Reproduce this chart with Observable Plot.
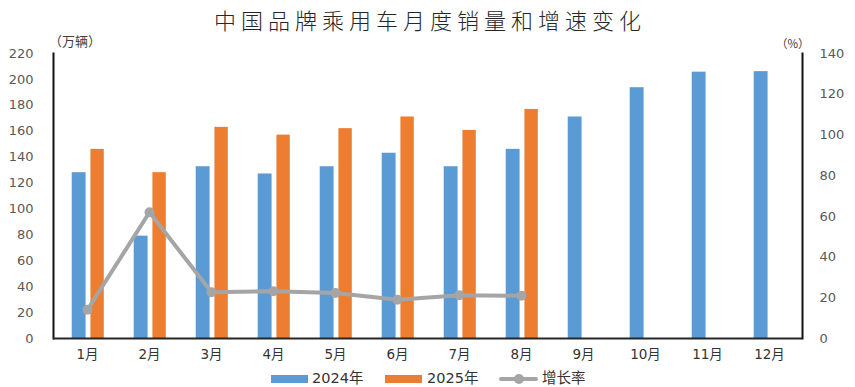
<!DOCTYPE html>
<html>
<head>
<meta charset="utf-8">
<script src="https://cdn.jsdelivr.net/npm/d3@7"></script>
<script src="https://cdn.jsdelivr.net/npm/@observablehq/plot@0.6"></script>
<style>
  html, body { margin: 0; padding: 0; background: #fff; }
  #wrap { position: relative; width: 855px; height: 387px; overflow: hidden;
          font-family: "DejaVu Sans", "Noto Sans CJK SC", sans-serif; }
  #wrap svg { position: absolute; left: 0; top: 0; }
  .abs { position: absolute; white-space: nowrap; line-height: 1; }
  #title { left: 0; width: 855px; top: 8px; text-align: center; font-family: "Noto Sans CJK SC", sans-serif;
           font-size: 22px; font-weight: 300; letter-spacing: 5px; color: #262626; padding-left: 5px; box-sizing: border-box; }
  #unitL { left: 49px; top: 34px; font-size: 13px; color: #404040; font-family: "Noto Sans CJK SC", sans-serif; }
  #unitR { left: 776px; top: 38px; font-size: 11.5px; color: #404040; font-family: "Noto Sans CJK SC", sans-serif; }
  #legend { left: 0; top: 371px; width: 855px; height: 16px; }
  .sw { position: absolute; top: 4px; width: 37px; height: 8px; }
  .lt { position: absolute; top: 0px; font-size: 14.5px; color: #333; }
</style>
</head>
<body>
<div id="wrap">
  <div id="chart"></div>
  <div id="title" class="abs"></div>
  <div id="unitL" class="abs">（万辆）</div>
  <div id="unitR" class="abs">（%）</div>
  <div id="legend" class="abs"></div>
</div>
<script>
const titleText = "中国品牌乘用车月度销量和增速变化";
const months = ["1月","2月","3月","4月","5月","6月","7月","8月","9月","10月","11月","12月"];
const sales2024 = [128, 79, 132.6, 127, 132.6, 143, 132.6, 146, 171, 193.6, 205.6, 206];
const sales2025 = [146, 128, 163, 157, 162, 171, 160.6, 176.8];
const growthRate = [14.1, 62, 22.7, 23.2, 22.4, 19, 21.3, 21];
const leftTicks = [0, 20, 40, 60, 80, 100, 120, 140, 160, 180, 200, 220];
const rightTicks = [0, 20, 40, 60, 80, 100, 120, 140];
const seriesNames = ["2024年", "2025年", "增长率"];
const colors = ["#5B9BD5", "#ED7D31", "#A5A5A5"];

const leftMax = 220, rightMax = 140;
const k = leftMax / rightMax;

const d24 = months.map((m, i) => ({month: m, value: sales2024[i]}));
const d25 = sales2025.map((v, i) => ({month: months[i], value: v}));
const dRate = growthRate.map((v, i) => ({month: months[i], rate: v, yv: v * k}));

const W = 855, H = 387, mL = 53, mR = 53, mT = 53, mB = 49;
const bw = (W - mL - mR) / months.length;
const half = bw / 2;

document.getElementById("title").textContent = titleText;

const chart = Plot.plot({
  width: W, height: H,
  marginLeft: mL, marginRight: mR, marginTop: mT, marginBottom: mB,
  style: {fontFamily: "DejaVu Sans, Noto Sans CJK SC, sans-serif", background: "#fff", overflow: "visible"},
  x: {type: "band", domain: months, padding: 0},
  y: {domain: [0, leftMax]},
  marks: [
    Plot.barY(d24, {x: "month", y: "value", fill: colors[0], insetLeft: half - 15.5, insetRight: half + 1.2}),
    Plot.barY(d25, {x: "month", y: "value", fill: colors[1], insetLeft: half + 3.2, insetRight: half - 17}),
    Plot.line(dRate, {x: "month", y: "yv", stroke: colors[2], strokeWidth: 4, strokeLinejoin: "round"}),
    Plot.dot(dRate, {x: "month", y: "yv", r: 5, fill: colors[2], stroke: "none"}),
    Plot.axisY(leftTicks, {anchor: "left", tickSize: 0, tickPadding: 20, fontSize: 13, fill: "#595959", label: null}),
    Plot.axisY(rightTicks.map(v => v * k), {anchor: "right", tickSize: 0, tickPadding: 17, fontSize: 13, fill: "#595959",
      tickFormat: d => String(Math.round(d / k)), label: null}),
    Plot.axisX({anchor: "bottom", tickSize: 0, tickPadding: 11, fontSize: 13.5, fill: "#333", label: null}),
    Plot.frame({anchor: "left", stroke: "#111", strokeWidth: 2}),
    Plot.frame({anchor: "right", stroke: "#111", strokeWidth: 2}),
    Plot.ruleY([0], {stroke: "#262626", strokeWidth: 2})
  ]
});
document.getElementById("chart").appendChild(chart);

// legend
const lg = document.getElementById("legend");
const items = [
  {sx: 271, tx: 312, type: "bar", c: colors[0], t: seriesNames[0]},
  {sx: 385, tx: 427, type: "bar", c: colors[1], t: seriesNames[1]},
  {sx: 499, tx: 542, type: "line", c: colors[2], t: seriesNames[2]}
];
for (const it of items) {
  if (it.type === "bar") {
    const s = document.createElement("div");
    s.className = "sw"; s.style.left = it.sx + "px"; s.style.background = it.c;
    lg.appendChild(s);
  } else {
    const s = document.createElement("div");
    s.style.cssText = `position:absolute;left:${it.sx}px;top:6px;width:39px;height:4px;background:${it.c};border-radius:2px`;
    lg.appendChild(s);
    const d = document.createElement("div");
    d.style.cssText = `position:absolute;left:${it.sx + 14.5}px;top:3px;width:10px;height:10px;background:${it.c};border-radius:50%`;
    lg.appendChild(d);
  }
  const t = document.createElement("div");
  t.className = "lt"; t.style.left = it.tx + "px"; t.textContent = it.t;
  lg.appendChild(t);
}
</script>
</body>
</html>
